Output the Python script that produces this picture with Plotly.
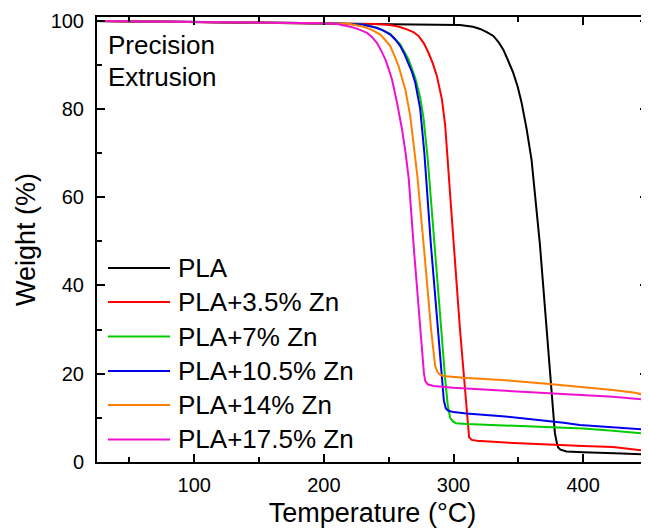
import plotly.graph_objects as go

# ---- data ----
series_names = ["PLA", "PLA+3.5% Zn", "PLA+7% Zn", "PLA+10.5% Zn", "PLA+14% Zn", "PLA+17.5% Zn"]
series_colors = ["#000000", "#ff0000", "#00cc00", "#0000ee", "#ff8000", "#f010d0"]

pla_T = [25, 100, 200, 250, 290, 305, 315, 320.5, 326, 330.7, 335, 338.4, 342, 346, 349.5, 352.5,
         356.4, 360.2, 366.6, 371.8, 375.6, 378.2, 379.7, 380.7, 382.5, 387.2, 400, 412.8, 430, 450]
pla_W = [99.9, 99.7, 99.4, 99.3, 99.2, 99.0, 98.6, 98.1, 97.3, 96.5, 95.0, 93.4, 91.0, 88.2, 85.0, 81.4,
         75.4, 68.4, 49.4, 30.6, 15.6, 6.5, 4.3, 3.3, 2.8, 2.4, 2.2, 2.0, 1.9, 1.7]

zn35_T = [25, 100, 150, 200, 240, 251, 258, 264, 269, 273, 277, 280.7, 284, 287.2, 291, 293.5, 295.5,
          299, 305, 309, 310.8, 312, 314, 318, 340, 371.8, 400, 423, 440, 450]
zn35_W = [99.9, 99.7, 99.6, 99.4, 99.2, 99.0, 98.6, 98.0, 97.4, 96.5, 94.9, 92.7, 90.3, 87.4, 82.2, 76.5, 69.0,
          54.0, 30.0, 15.5, 8.5, 5.6, 5.0, 4.8, 4.4, 3.9, 3.6, 3.4, 2.9, 2.5]

zn7_T = [25, 100, 150, 200, 230, 241, 251.2, 258.9, 265.3, 270.5, 274.3, 276.8, 280, 285, 290.5, 293.5,
         295.5, 297.4, 299.5, 302, 310.2, 340, 371.8, 400, 423, 450]
zn7_W = [99.9, 99.7, 99.6, 99.4, 99.1, 98.4, 97.0, 94.6, 91.2, 87.0, 82.5, 78.0, 69.0, 50.0, 30.0, 19.0,
         13.0, 10.0, 9.2, 8.8, 8.6, 8.3, 7.9, 7.6, 7.1, 6.4]

zn105_T = [25, 100, 150, 200, 230, 241, 246, 251.2, 255, 258.9, 262, 265.3, 268, 270.5, 274.3, 277.5,
           282.5, 288, 291, 292.5, 294, 296, 300, 310, 340, 371.8, 385, 397.4, 420, 450]
zn105_W = [99.9, 99.7, 99.6, 99.4, 99.1, 98.3, 97.7, 96.8, 95.7, 94.2, 92.5, 90.4, 88.3, 85.9, 80.0, 70.0,
           49.4, 30.0, 18.0, 14.0, 12.2, 11.6, 11.3, 11.0, 10.3, 9.4, 8.9, 8.4, 7.9, 7.3]

zn14_T = [25, 100, 150, 200, 220, 230.7, 237, 243.5, 247, 251.2, 254.5, 257.6, 260, 262.8, 266.6, 269.4,
          272.2, 277.5, 282.7, 285.8, 287.5, 289, 292, 307.6, 340, 371.8, 400, 423, 440, 450]
zn14_W = [99.9, 99.7, 99.6, 99.4, 99.2, 98.6, 97.9, 96.8, 95.7, 94.2, 92.0, 89.7, 87.2, 84.4, 78.4, 72.0,
          64.5, 47.5, 30.0, 21.8, 20.5, 19.9, 19.5, 19.1, 18.5, 17.7, 17.0, 16.3, 15.7, 15.0]

zn175_T = [25, 100, 150, 200, 210, 220.5, 227, 233.3, 237, 241, 244, 247.4, 250, 252.5, 256.4, 260.2,
           263, 265.5, 269.5, 274.3, 276, 277.2, 278.2, 280, 284.5, 300, 330, 371.8, 400, 423, 450]
zn175_W = [99.9, 99.7, 99.6, 99.4, 99.2, 98.6, 98.0, 97.2, 96.3, 94.9, 93.3, 91.2, 89.0, 86.7, 81.4, 75.5,
           70.0, 64.0, 48.0, 29.9, 23.5, 20.0, 18.3, 17.6, 17.2, 16.8, 16.3, 15.7, 15.2, 14.8, 14.1]

series_T = [pla_T, zn35_T, zn7_T, zn105_T, zn14_T, zn175_T]
series_W = [pla_W, zn35_W, zn7_W, zn105_W, zn14_W, zn175_W]

x_range = [25, 450]
y_range = [0, 100.8]
x_ticks = [100, 200, 300, 400]
y_ticks = [0, 20, 40, 60, 80, 100]

FONT = "Liberation Sans, Arial, sans-serif"

fig = go.Figure()
for name, color, T, W in zip(series_names, series_colors, series_T, series_W):
    fig.add_trace(go.Scatter(x=T, y=W, mode="lines", name=name,
                             line=dict(color=color, width=2), showlegend=False))

# custom legend (sample lines + labels), placed in the plot's paper space
legend_y = [0.436, 0.3596, 0.282, 0.2045, 0.128, 0.0506]
for name, color, ly in zip(series_names, series_colors, legend_y):
    fig.add_shape(type="line", xref="paper", yref="paper", x0=0.02, x1=0.1325, y0=ly, y1=ly,
                  line=dict(color=color, width=2))
    fig.add_annotation(xref="paper", yref="paper", x=0.143, y=ly, text=name, showarrow=False,
                       xanchor="left", yanchor="middle", font=dict(family=FONT, size=26, color="black"))

fig.add_annotation(xref="paper", yref="paper", x=0.016, y=0.937, text="Precision", showarrow=False,
                   xanchor="left", yanchor="middle", font=dict(family=FONT, size=26, color="black"))
fig.add_annotation(xref="paper", yref="paper", x=0.016, y=0.865, text="Extrusion", showarrow=False,
                   xanchor="left", yanchor="middle", font=dict(family=FONT, size=26, color="black"))

axis_common = dict(showline=True, linewidth=2, linecolor="black", mirror="ticks",
                   ticks="inside", ticklen=8, tickwidth=1.5, tickcolor="black",
                   showgrid=False, zeroline=False,
                   tickfont=dict(family=FONT, size=20, color="black"))

fig.update_xaxes(range=x_range, tickvals=x_ticks,
                 minor=dict(tickvals=[50, 150, 250, 350, 450], ticks="inside", ticklen=5,
                            tickwidth=1.5, tickcolor="black", showgrid=False),
                 title=dict(text="Temperature (°C)", font=dict(family=FONT, size=27, color="black"),
                            standoff=8),
                 ticklabelstandoff=4, **axis_common)
fig.update_yaxes(range=y_range, tickvals=y_ticks,
                 minor=dict(tickvals=[10, 30, 50, 70, 90], ticks="inside", ticklen=5,
                            tickwidth=1.5, tickcolor="black", showgrid=False),
                 title=dict(text="Weight (%)", font=dict(family=FONT, size=27, color="black"),
                            standoff=7),
                 ticklabelstandoff=7, **axis_common)

# the page adds an 8px body margin, so the figure is laid out 8px smaller/shifted
fig.update_layout(width=641, height=520, margin=dict(l=89, r=1, t=9, b=66, autoexpand=False),
                  paper_bgcolor="white", plot_bgcolor="white", showlegend=False,
                  font=dict(family=FONT, color="black"))

fig.write_html("out.html")
